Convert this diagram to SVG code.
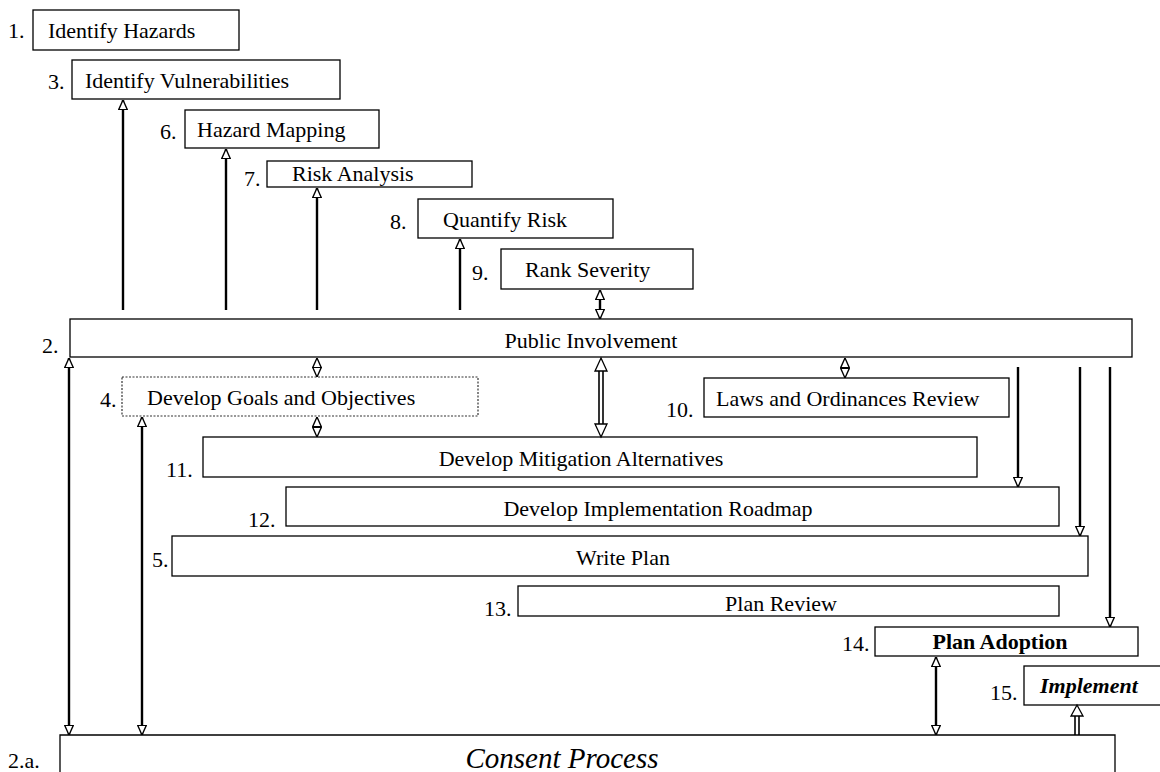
<svg xmlns="http://www.w3.org/2000/svg" width="1160" height="772" viewBox="0 0 1160 772">
<style>
.box{fill:#fff;stroke:#000;stroke-width:1.3}
.dot{fill:#fff;stroke:#333;stroke-width:1.2;stroke-dasharray:2 1.5}
text{font-family:"Liberation Serif","Times New Roman",serif;font-size:22px;fill:#000}
.c{text-anchor:middle}
.big{font-size:29px;font-style:italic}
.con{stroke:#000;stroke-width:2.4;fill:none}
.thin{stroke:#000;stroke-width:1.6;fill:none}
.head{fill:#fff;stroke:#000;stroke-width:1.3}
</style>
<defs>
<marker id="ah" viewBox="0 0 10 10" refX="10" refY="5" markerWidth="4" markerHeight="4" orient="auto-start-reverse" markerUnits="strokeWidth">
<path d="M0,0.5 L10,5 L0,9.5 z" fill="#fff" stroke="#000" stroke-width="1.4"/>
</marker>
<marker id="ahs" viewBox="0 0 10 10" refX="10" refY="5" markerWidth="6" markerHeight="6" orient="auto-start-reverse" markerUnits="strokeWidth">
<path d="M0,0.5 L10,5 L0,9.5 z" fill="#fff" stroke="#000" stroke-width="1.4"/>
</marker>
</defs>

<g id="n1"><text x="8" y="38">1.</text><rect class="box" x="33" y="10" width="206" height="40"/><text x="48" y="38">Identify Hazards</text></g>
<g id="n3"><text x="48" y="89">3.</text><rect class="box" x="72" y="60" width="268" height="39"/><text x="85" y="88">Identify Vulnerabilities</text></g>
<g id="n6"><text x="160" y="139">6.</text><rect class="box" x="185" y="110" width="194" height="38"/><text x="197" y="137">Hazard Mapping</text></g>
<g id="n7"><text x="244" y="186">7.</text><rect class="box" x="267" y="161" width="205" height="26"/><text x="292" y="181">Risk Analysis</text></g>
<g id="n8"><text x="390" y="229">8.</text><rect class="box" x="418" y="199" width="195" height="39"/><text x="443" y="227">Quantify Risk</text></g>
<g id="n9"><text x="472" y="280">9.</text><rect class="box" x="501" y="249" width="192" height="40"/><text x="525" y="277">Rank Severity</text></g>
<g id="n2"><text x="42" y="353">2.</text><rect class="box" x="70" y="319" width="1062" height="38"/><text class="c" x="591" y="348">Public Involvement</text></g>
<g id="n4"><text x="100" y="407">4.</text><rect class="dot" x="122" y="377" width="356" height="39"/><text x="147" y="405">Develop Goals and Objectives</text></g>
<g id="n10"><text x="666" y="417">10.</text><rect class="box" x="704" y="378" width="305" height="39"/><text x="716" y="406">Laws and Ordinances Review</text></g>
<g id="n11"><text x="166" y="477">11.</text><rect class="box" x="203" y="437" width="774" height="40"/><text class="c" x="581" y="466">Develop Mitigation Alternatives</text></g>
<g id="n12"><text x="248" y="527">12.</text><rect class="box" x="286" y="487" width="773" height="39"/><text class="c" x="658" y="516">Develop Implementation Roadmap</text></g>
<g id="n5"><text x="152" y="567">5.</text><rect class="box" x="172" y="536" width="916" height="40"/><text class="c" x="623" y="565">Write Plan</text></g>
<g id="n13"><text x="484" y="616">13.</text><rect class="box" x="518" y="586" width="541" height="30"/><text class="c" x="781" y="611">Plan Review</text></g>
<g id="n14"><text x="842" y="651">14.</text><rect class="box" x="875" y="627" width="263" height="29"/><text class="c" x="1000" y="649" font-weight="bold">Plan Adoption</text></g>
<g id="n15"><text x="990" y="700">15.</text><rect class="box" x="1024" y="666" width="146" height="39"/><text x="1040" y="693" font-weight="bold" font-style="italic">Implement</text></g>
<g id="n2a"><text x="8" y="768">2.a.</text><path class="box" d="M60,780 V735 H1115 V780"/><text class="c big" x="562" y="768">Consent Process</text></g>

<g id="connectors">
<line class="con" x1="123" y1="310" x2="123" y2="100" marker-end="url(#ah)"/>
<line class="con" x1="226" y1="310" x2="226" y2="149" marker-end="url(#ah)"/>
<line class="con" x1="317" y1="310" x2="317" y2="188" marker-end="url(#ah)"/>
<line class="con" x1="460" y1="310" x2="460" y2="239" marker-end="url(#ah)"/>
<line class="con" x1="600" y1="290" x2="600" y2="319" marker-start="url(#ah)" marker-end="url(#ah)"/>
<line class="thin" x1="317" y1="358" x2="317" y2="377" marker-start="url(#ahs)" marker-end="url(#ahs)"/>
<line class="thin" x1="317" y1="417" x2="317" y2="437" marker-start="url(#ahs)" marker-end="url(#ahs)"/>
<line class="thin" x1="845" y1="358" x2="845" y2="378" marker-start="url(#ahs)" marker-end="url(#ahs)"/>
<g>
<line class="thin" x1="599" y1="370" x2="599" y2="424" stroke-width="1.2"/>
<line class="thin" x1="603" y1="370" x2="603" y2="424" stroke-width="1.2"/>
<path class="head" d="M601,358 L607,371 L595,371 z"/>
<path class="head" d="M601,437 L607,424 L595,424 z"/>
</g>
<line class="con" x1="1018" y1="367" x2="1018" y2="487" stroke-width="1.8" marker-end="url(#ah)"/>
<line class="con" x1="1080" y1="367" x2="1080" y2="536" stroke-width="1.8" marker-end="url(#ah)"/>
<line class="con" x1="1110" y1="367" x2="1110" y2="627" stroke-width="1.8" marker-end="url(#ah)"/>
<line class="con" x1="69" y1="358" x2="69" y2="735" marker-start="url(#ah)" marker-end="url(#ah)"/>
<line class="con" x1="142" y1="417" x2="142" y2="735" marker-start="url(#ah)" marker-end="url(#ah)"/>
<line class="con" x1="936" y1="657" x2="936" y2="735" marker-start="url(#ah)" marker-end="url(#ah)"/>
<g>
<line class="thin" x1="1075" y1="716" x2="1075" y2="735" stroke-width="1.2"/>
<line class="thin" x1="1079" y1="716" x2="1079" y2="735" stroke-width="1.2"/>
<path class="head" d="M1077,705 L1083,716 L1071,716 z"/>
</g>
</g>
</svg>
